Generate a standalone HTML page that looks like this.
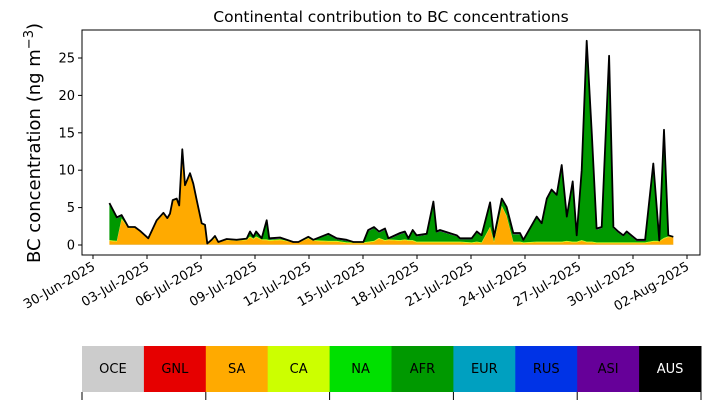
<!DOCTYPE html>
<html><head><meta charset="utf-8"><style>
body{margin:0;background:#fff;}
svg{display:block;font-family:"DejaVu Sans","Liberation Sans",sans-serif;}
</style></head><body>
<svg id="chart" width="710" height="402" viewBox="0 0 710 402" xmlns="http://www.w3.org/2000/svg"></svg>
<script>
// data: days since 2025-06-30
const days=[0.91,1.32,1.59,1.96,2.33,2.61,3.07,3.54,3.91,4.13,4.28,4.43,4.65,4.79,4.96,5.11,5.39,5.57,5.76,6.04,6.22,6.35,6.59,6.78,6.96,7.43,7.98,8.54,8.72,8.91,9.06,9.37,9.65,9.79,10.39,11.13,11.41,11.96,12.24,13.07,13.54,14.09,14.46,15.02,15.29,15.61,15.89,16.22,16.41,17.06,17.33,17.52,17.76,17.98,18.54,18.91,19.09,19.28,20.21,20.39,21.04,21.32,21.59,22.06,22.28,22.71,22.98,23.35,23.72,23.91,24.65,24.93,25.21,25.48,25.76,26.04,26.32,26.65,26.87,27.15,27.43,27.71,27.98,28.26,28.67,28.91,29.18,29.46,29.65,30.21,30.67,31.13,31.46,31.72,31.96,32.24];
const total=[5.6,3.7,4.0,2.4,2.4,1.9,0.9,3.3,4.3,3.6,4.2,6.0,6.2,5.3,12.8,8.0,9.6,8.2,6.0,2.9,2.7,0.2,0.7,1.2,0.4,0.8,0.7,0.85,1.8,1.1,1.8,0.9,3.3,0.9,1.0,0.4,0.4,1.1,0.7,1.5,0.9,0.7,0.4,0.4,2.0,2.4,1.8,2.2,0.9,1.6,1.8,0.9,2.0,1.3,1.5,5.8,1.8,2.0,1.3,0.9,0.9,1.8,1.3,5.7,1.1,6.2,5.1,1.6,1.6,0.7,3.8,2.9,6.2,7.4,6.7,10.7,3.8,8.5,1.3,10.0,27.3,14.9,2.2,2.4,25.3,2.4,1.8,1.3,1.8,0.7,0.7,10.9,0.6,15.4,1.3,1.1];
const sa=[0.5,0.4,3.4,2.2,2.3,1.8,0.8,3.1,4.1,3.4,4.0,5.8,6.0,5.1,12.4,7.8,9.4,8.0,5.8,2.7,2.5,0.1,0.5,0.9,0.3,0.6,0.5,0.6,1.0,0.7,1.0,0.6,0.6,0.5,0.6,0.3,0.3,0.8,0.5,0.4,0.4,0.2,0.2,0.2,0.3,0.4,0.8,0.5,0.6,0.5,0.6,0.5,0.5,0.3,0.3,0.3,0.3,0.3,0.3,0.3,0.2,0.3,0.2,2.3,0.3,5.1,3.8,0.3,0.3,0.2,0.3,0.3,0.3,0.3,0.3,0.3,0.4,0.3,0.3,0.5,0.3,0.3,0.2,0.2,0.2,0.2,0.2,0.2,0.2,0.2,0.2,0.4,0.4,0.8,1.0,1.0];
const oceVal=0.05, caVal=0.1, asiVal=0.15;
const yTicks=[0,5,10,15,20,25];
const xTickDays=[0,3,6,9,12,15,18,21,24,27,30,33];
const xTickLabels=["30-Jun-2025","03-Jul-2025","06-Jul-2025","09-Jul-2025","12-Jul-2025","15-Jul-2025","18-Jul-2025","21-Jul-2025","24-Jul-2025","27-Jul-2025","30-Jul-2025","02-Aug-2025"];
const regions=["OCE","GNL","SA","CA","NA","AFR","EUR","RUS","ASI","AUS"];
const regionColors=["#cccccc","#e60000","#ffaa00","#ccff00","#00e000","#009900","#00a0c0","#0033e6","#660099","#000000"];

const NS="http://www.w3.org/2000/svg";
const svg=document.getElementById('chart');
const L=82,R=700,T=30,B=255;
const xs=d=>93+18*d;
const ys=v=>245-7.48*v;
function mk(tag,attrs,parent){const e=document.createElementNS(NS,tag);for(const k in attrs)e.setAttribute(k,attrs[k]);(parent||svg).appendChild(e);return e;}

const n=days.length;
const oce=[],ca=[],asi=[],afr=[];
for(let i=0;i<n;i++){
  let rem=total[i]-sa[i];
  const o=Math.min(oceVal,Math.max(rem,0));rem-=o;
  const c=Math.min(caVal,Math.max(rem,0));rem-=c;
  const a=Math.min(asiVal,Math.max(rem,0));rem-=a;
  oce.push(o);ca.push(c);asi.push(a);afr.push(Math.max(rem,0));
}
const layers=[["oce",oce,"#cccccc"],["sa",sa,"#ffaa00"],["ca",ca,"#ccff00"],["afr",afr,"#009900"],["asi",asi,"#660099"]];
const base=new Array(n).fill(0);
const g=mk('g',{});


layers.forEach(([name,vals,col])=>{
  const top=base.map((b,i)=>b+vals[i]);
  let d='M'+days.map((dd,i)=>xs(dd).toFixed(1)+','+ys(top[i]).toFixed(1)).join('L');
  for(let i=n-1;i>=0;i--)d+='L'+xs(days[i]).toFixed(1)+','+ys(base[i]).toFixed(1);
  const p=mk('path',{d:d+'Z',fill:col,stroke:'none'},g);
  
  
  for(let i=0;i<n;i++)base[i]=top[i];
});
const tl=mk('polyline',{points:days.map((dd,i)=>xs(dd).toFixed(1)+','+ys(total[i]).toFixed(1)).join(' '),fill:'none',stroke:'#000',"stroke-width":1.8,"stroke-linejoin":"round"});



const fr=mk('rect',{x:L,y:T,width:R-L,height:B-T,fill:'none',stroke:'#000',"stroke-width":1});



yTicks.forEach(v=>{
  const y=ys(v);
  const t=mk('line',{x1:L-4,x2:L,y1:y,y2:y,stroke:'#000'});
  
  
  const lb=mk('text',{x:L-7,y:y+4.5,"text-anchor":"end","font-size":13});
  lb.textContent=v;
  
  
});
xTickDays.forEach((d,i)=>{
  const x=xs(d);
  const t=mk('line',{x1:x,x2:x,y1:B,y2:B+4,stroke:'#000'});
  
  
  const lb=mk('text',{x:x+3,y:B+14,"text-anchor":"end","font-size":13,transform:`rotate(-30 ${x+3} ${B+14})`});
  lb.textContent=xTickLabels[i];
  
  
});
const ttl=mk('text',{x:391,y:22,"text-anchor":"middle","font-size":15.5});
ttl.textContent='Continental contribution to BC concentrations';


const yl=mk('text',{x:40,y:143,"text-anchor":"middle","font-size":18,transform:'rotate(-90 40 143)'});
yl.innerHTML='BC concentration (ng m<tspan dy="-7" font-size="13">−3</tspan><tspan dy="7">)</tspan>';



const lg=mk('g',{});


const bw=(701-82)/regions.length;
regions.forEach((r,i)=>{
  const x=82+i*bw;
  const rc=mk('rect',{x:x,y:346,width:bw+0.5,height:46,fill:regionColors[i]},lg);
  
  
  const tx=mk('text',{x:x+bw/2,y:373,"text-anchor":"middle","font-size":13,fill:r==="AUS"?"#fff":"#000"},lg);
  tx.textContent=r;
  
  
});
for(let i=0;i<=regions.length;i+=2){
  const x=82+i*bw;
  const t=mk('line',{x1:x,x2:x,y1:392,y2:400,stroke:'#000'},lg);
  
  
}
</script>
</body></html>
